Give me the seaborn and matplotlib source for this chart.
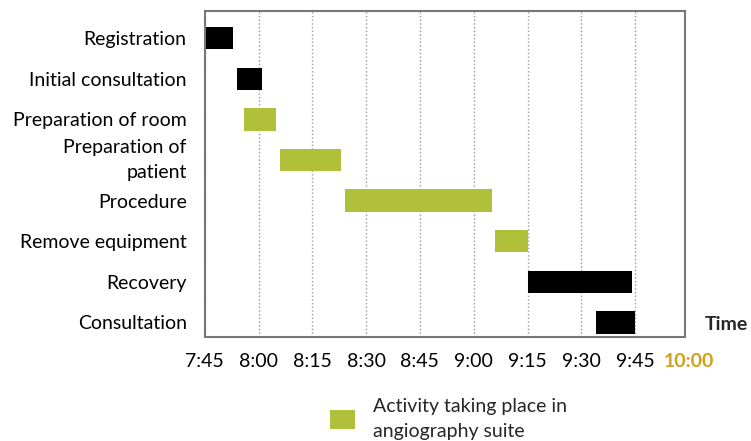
import numpy as np
import pandas as pd
import matplotlib
matplotlib.use("Agg")
import matplotlib.pyplot as plt
import matplotlib.transforms as mtransforms
from matplotlib.patches import Patch
import seaborn as sns

# ---------------- data ----------------
tasks = [
    "Registration",
    "Initial consultation",
    "Preparation of room",
    "Preparation of\npatient",
    "Procedure",
    "Remove equipment",
    "Recovery",
    "Consultation",
]
start_times = ["7:45", "7:54", "7:56", "8:06", "8:24", "9:06", "9:15", "9:34"]
end_times = ["7:53", "8:01", "8:05", "8:23", "9:05", "9:15", "9:44", "9:45"]
in_angio_suite = [False, False, True, True, True, True, False, False]

tick_labels = ["7:45", "8:00", "8:15", "8:30", "8:45", "9:00", "9:15", "9:30", "9:45"]
axis_end_label = "10:00"
axis_title = "Time"
legend_label = "Activity taking place in\nangiography suite"


def to_min(s):
    h, m = s.split(":")
    return int(h) * 60 + int(m)


origin = to_min(tick_labels[0])
df = pd.DataFrame({
    "task": tasks,
    "start": [to_min(s) - origin for s in start_times],
    "end": [to_min(s) - origin for s in end_times],
    "suite": in_angio_suite,
})
df["duration"] = df["end"] - df["start"]
tick_pos = [to_min(t) - origin for t in tick_labels]
end_pos = to_min(axis_end_label) - origin

# ---------------- style ----------------
sns.set_theme(style="white")
plt.rcParams["font.family"] = ["Lato", "DejaVu Sans"]

GREEN = "#B1C03A"
W, H = 751, 441
fig = plt.figure(figsize=(W / 100, H / 100), dpi=100)
left, right, top, bottom = 204.7, 685.0, 11.0, 337.3
ax = fig.add_axes([left / W, 1 - bottom / H, (right - left) / W, (bottom - top) / H])

for flag, col in [(False, "black"), (True, GREEN)]:
    sub = df[df["suite"] == flag]
    sns.barplot(
        data=sub, x="duration", y="task", order=tasks, orient="y",
        color=col, saturation=1, width=0.55, errorbar=None,
        left=sub["start"].to_numpy(), edgecolor="none", linewidth=0, ax=ax,
    )

ax.set_xlim(0, 133.9)
ax.set_ylim(7.367, -0.67)
ax.set_xticks(tick_pos)
ax.set_xticklabels(tick_labels)
ax.set_xlabel("")
ax.set_ylabel("")
ax.grid(axis="x", linestyle=":", color="#9a9a9a", linewidth=1)
ax.grid(axis="y", visible=False)
ax.set_axisbelow(True)
ax.tick_params(axis="both", length=0, labelsize=14, labelcolor="black")
ax.tick_params(axis="y", pad=13)
ax.tick_params(axis="x", pad=11)
for lab in ax.get_yticklabels():
    if "\n" in lab.get_text():
        lab.set_linespacing(1.6)
        lab.set_verticalalignment("center")
for sp in ax.spines.values():
    sp.set_visible(True)
    sp.set_color("#777777")
    sp.set_linewidth(1.5)

trans = mtransforms.blended_transform_factory(ax.transData, ax.transAxes)
ax.text(end_pos, -24.0 / (bottom - top), axis_end_label, transform=trans,
        ha="center", va="center", color="#D4A017", fontweight="bold",
        fontsize=14, clip_on=False)

fig.text(705 / W, 1 - 324 / H, axis_title, fontweight="bold", fontsize=14,
         ha="left", va="center")

leg = fig.legend(
    handles=[Patch(facecolor=GREEN, edgecolor="none", label=legend_label)],
    loc="center left", bbox_to_anchor=(330 / W, 1 - 419 / H), frameon=False,
    fontsize=14, handlelength=1.3, handleheight=1.15, handletextpad=0.9,
    borderpad=0, borderaxespad=0,
)
for t in leg.get_texts():
    t.set_linespacing(1.6)

fig.savefig("out.png", dpi=100)
